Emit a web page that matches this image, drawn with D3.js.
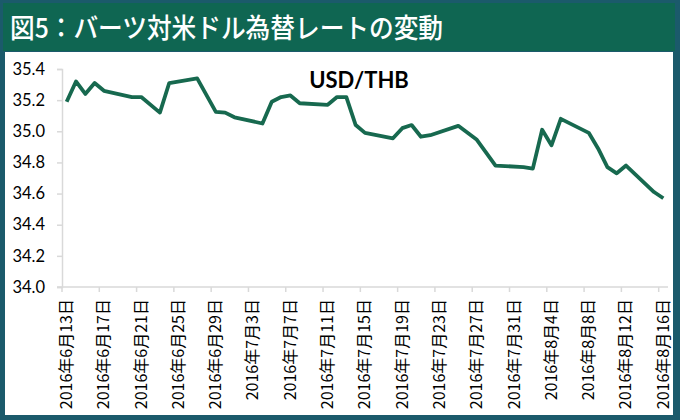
<!DOCTYPE html>
<html><head><meta charset="utf-8">
<script src="https://cdn.jsdelivr.net/npm/d3@7"></script>
<style>
html,body{margin:0;padding:0;background:#1b5a6b;}
svg{display:block;}
</style></head>
<body>
<svg id="c" width="680" height="420"></svg>
<script>
const title = "図5：バーツ対米ドル為替レートの変動";
const seriesName = "USD/THB";
const dates = ["2016-06-13","2016-06-14","2016-06-15","2016-06-16","2016-06-17","2016-06-20","2016-06-21","2016-06-23","2016-06-24","2016-06-27","2016-06-29","2016-06-30","2016-07-01","2016-07-04","2016-07-05","2016-07-06","2016-07-07","2016-07-08","2016-07-11","2016-07-12","2016-07-13","2016-07-14","2016-07-15","2016-07-18","2016-07-19","2016-07-20","2016-07-21","2016-07-22","2016-07-25","2016-07-27","2016-07-29","2016-08-01","2016-08-02","2016-08-03","2016-08-04","2016-08-05","2016-08-08","2016-08-09","2016-08-10","2016-08-11","2016-08-12","2016-08-15","2016-08-16"];
const rates = [35.19,35.32,35.24,35.31,35.26,35.22,35.22,35.12,35.31,35.34,35.125,35.12,35.09,35.05,35.19,35.22,35.23,35.18,35.17,35.22,35.22,35.04,34.99,34.955,35.02,35.04,34.965,34.975,35.035,34.945,34.78,34.77,34.76,35.01,34.91,35.08,34.99,34.89,34.77,34.73,34.78,34.61,34.57];
const yTicks = [34.0,34.2,34.4,34.6,34.8,35.0,35.2,35.4];
const tickLabels = ["2016年6月13日","2016年6月17日","2016年6月21日","2016年6月25日","2016年6月29日","2016年7月3日","2016年7月7日","2016年7月11日","2016年7月15日","2016年7月19日","2016年7月23日","2016年7月27日","2016年7月31日","2016年8月4日","2016年8月8日","2016年8月12日","2016年8月16日"];
const firstDay = "2016-06-13", lastDay = "2016-08-16";

const parse = d3.utcParse("%Y-%m-%d");
const days = d3.utcDay.range(parse(firstDay), d3.utcDay.offset(parse(lastDay),1));
const key = d3.utcFormat("%Y-%m-%d");

const svg = d3.select("#c");
// frame
svg.append("rect").attr("x",0).attr("y",0).attr("width",680).attr("height",420).attr("fill","#1b5a6b");
svg.append("rect").attr("x",3).attr("y",3).attr("width",672).attr("height",48).attr("fill","#0f6652");
svg.append("rect").attr("x",5).attr("y",52).attr("width",668).attr("height",363).attr("fill","#ffffff");
svg.append("text").attr("x",10).attr("y",38).attr("fill","#ffffff")
  .attr("font-family","'Noto Sans CJK JP'").attr("font-weight",500).attr("font-size",27)
  .attr("textLength",433).attr("lengthAdjust","spacingAndGlyphs")
  .text(title);

const x = d3.scaleBand().domain(days.map(key)).range([62,668]).padding(0);
const y = d3.scaleLinear().domain([34.0,35.4]).range([287,69]);

const axisCol = "#d9d9d9";
// y axis
const ya = svg.append("g").attr("transform","translate(62,0)")
  .call(d3.axisLeft(y).tickValues(yTicks).tickFormat(d3.format(".1f")).tickSize(5).tickPadding(12));
ya.select(".domain").attr("stroke",axisCol).attr("stroke-width",1.5);
ya.selectAll(".tick line").attr("stroke",axisCol).attr("stroke-width",1.5);
ya.selectAll(".tick text").attr("font-family","Lato").attr("font-size",16.5).attr("fill","#000");

// x axis
const tickDays = days.filter((d,i)=>i%4===0).map(key);
const xa = svg.append("g").attr("transform","translate(0,287)");
xa.append("line").attr("x1",57).attr("x2",668).attr("y1",0).attr("y2",0).attr("stroke",axisCol).attr("stroke-width",1.5);
xa.selectAll("line.t").data(tickDays).join("line").attr("class","t")
  .attr("x1",d=>x(d)).attr("x2",d=>x(d)).attr("y1",0).attr("y2",5).attr("stroke",axisCol).attr("stroke-width",1.5);
xa.selectAll("text").data(tickDays).join("text")
  .attr("transform",(d,i)=>`translate(${x(d)+x.bandwidth()/2+1},12) rotate(-90)`)
  .attr("text-anchor","end").attr("dominant-baseline","middle")
  .attr("font-family","'Noto Sans CJK JP'").attr("font-size",16).attr("fill","#000")
  .text((d,i)=>tickLabels[i]);

// line
const pts = dates.map((d,i)=>({d, v: rates[i]}));
svg.append("path").datum(pts)
  .attr("d", d3.line().x(p=>x(p.d)+x.bandwidth()/2).y(p=>y(p.v)))
  .attr("fill","none").attr("stroke","#17694f").attr("stroke-width",3.8).attr("stroke-linejoin","round");

svg.append("text").attr("x",359).attr("y",88).attr("text-anchor","middle")
  .attr("font-family","Lato").attr("font-weight",700).attr("font-size",22).attr("fill","#000")
  .text(seriesName);
</script>
</body></html>
